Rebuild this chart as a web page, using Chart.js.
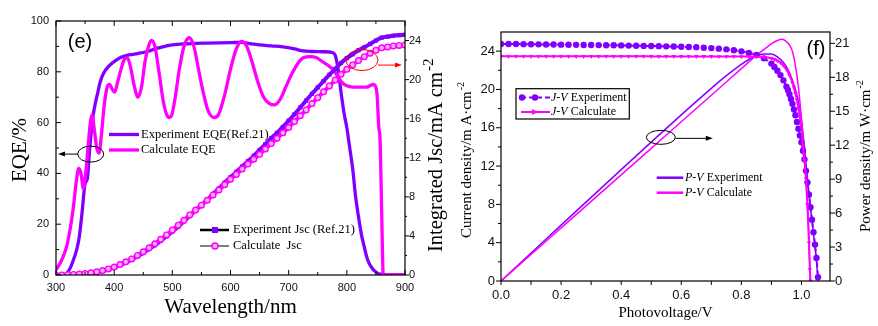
<!DOCTYPE html>
<html>
<head>
<meta charset="utf-8">
<script src="https://cdn.jsdelivr.net/npm/chart.js@4.4.0/dist/chart.umd.min.js"></script>
<style>
  body { margin: 0; background: #fff; }
  #wrap { position: relative; width: 878px; height: 326px; overflow: hidden; }
  canvas { position: absolute; top: 0; }
  #eqe { left: 0; }
  #jv { left: 440px; }
</style>
</head>
<body>
<div id="wrap">
  <canvas id="eqe" width="450" height="326"></canvas>
  <canvas id="jv" width="438" height="326"></canvas>
</div>
<script>
// ---- panel (e): EQE and integrated Jsc vs wavelength ----
const eqeExpNm = [300, 317, 320, 325, 330, 335, 340, 345, 350, 354, 357, 360, 364, 368, 372, 376, 382, 390, 400, 410,
  420, 430, 440, 450, 460, 470, 480, 490, 500, 520, 540, 560, 580, 600, 620, 630, 650, 670, 690, 710,
  725, 740, 760, 775, 780, 785, 790, 795, 800, 805, 810, 815, 820, 825, 830, 835, 840, 845, 850, 855,
  860, 870, 900];
const eqeExpVal = [0, 0, 1, 3, 6, 9.5, 15, 25, 36, 38, 47, 55, 63, 68, 72, 76, 79.5, 82, 84, 85.5,
  86.3, 86.8, 87.2, 87.6, 88.2, 89, 89.6, 90.2, 90.6, 91, 91.2, 91.3, 91.4, 91.5, 91.6, 91.2, 90.6, 90.2, 89.8, 89,
  88.2, 88, 87.9, 87.6, 86.5, 81, 72, 64, 58, 50, 42, 31, 23, 16, 11, 6.5, 3.9, 2.2, 1.2, 0.5,
  0.2, 0, 0];

const eqeCalcNm = [300, 310, 318, 325, 330, 335, 339, 343, 347, 351, 355, 359, 362, 366, 370, 374, 378, 383, 388, 392,
  397, 401, 406, 413, 418, 423, 428, 434, 441, 447, 453, 459, 464, 470, 477, 484, 489, 494, 499, 505,
  512, 520, 529, 537, 545, 553, 561, 567, 573, 580, 590, 600, 610, 619, 628, 637, 647, 657, 667, 676,
  685, 695, 705, 715, 725, 738, 748, 758, 768, 778, 786, 793, 800, 810, 820, 834, 845, 849, 852, 855,
  857, 859, 860.5, 862, 863, 870, 900];
const eqeCalcVal = [2, 6, 11, 19, 27, 37, 42, 40, 34, 40, 50, 60, 63, 57, 50, 48, 55, 67, 74, 75,
  73, 72, 76, 82, 85, 85.5, 82, 75, 70, 74, 84, 90, 92.4, 90, 80, 69, 64, 62, 63, 70,
  81, 90, 93.4, 90, 81, 72, 65, 62.5, 62, 63.5, 71, 81, 89, 92, 90, 84, 76, 70, 67.5, 67,
  69, 74, 79, 83, 85.5, 86, 85.5, 84, 82.5, 80.5, 77.5, 75.5, 74.5, 74, 74, 74, 75, 74.5, 71, 58,
  54, 35, 18, 2, 0, 0, 0];

const jscNm = [300, 310, 320, 330, 340, 350, 360, 370, 380, 390, 400, 410, 420, 430, 440, 450, 460, 470, 480, 490,
  500, 510, 520, 530, 540, 550, 560, 570, 580, 590, 600, 610, 620, 630, 640, 650, 660, 670, 680, 690,
  700, 710, 720, 730, 740, 750, 760, 770, 780, 790, 800, 810, 820, 830, 840, 850, 860, 870, 880, 890, 900];
const jscExp = [0, 0, 0, 0.02, 0.05, 0.1, 0.18, 0.28, 0.4, 0.55, 0.75, 1.0, 1.25, 1.55, 1.9, 2.25, 2.65, 3.05, 3.5, 3.95,
  4.45, 4.95, 5.5, 6.05, 6.6, 7.15, 7.7, 8.3, 8.85, 9.45, 10.0, 10.55, 11.1, 11.65, 12.2, 12.8, 13.4, 14.0, 14.55, 15.15,
  15.8, 16.45, 17.15, 17.85, 18.55, 19.2, 19.85, 20.5, 21.1, 21.7, 22.2, 22.6, 23.0, 23.3, 23.65, 24.0, 24.3, 24.4, 24.5, 24.55, 24.6];
const jscCalc = [0, 0.01, 0.03, 0.06, 0.1, 0.15, 0.22, 0.32, 0.45, 0.62, 0.82, 1.07, 1.35, 1.65, 2.0, 2.38, 2.78, 3.2, 3.65, 4.1,
  4.6, 5.1, 5.6, 6.15, 6.65, 7.15, 7.65, 8.2, 8.7, 9.25, 9.8, 10.3, 10.85, 11.35, 11.85, 12.35, 12.9, 13.45, 14.0, 14.55,
  15.1, 15.7, 16.3, 16.9, 17.55, 18.15, 18.75, 19.35, 19.95, 20.55, 21.05, 21.5, 21.95, 22.35, 22.7, 23.0, 23.25, 23.35, 23.45, 23.5, 23.55];

const nmTicks = [300, 400, 500, 600, 700, 800, 900];
const eqeTicks = [0, 20, 40, 60, 80, 100];
const jscTicks = [0, 4, 8, 12, 16, 20, 24];

// ---- panel (f): J-V and P-V curves ----
const jvExpV = [0, 0.025, 0.05, 0.075, 0.1, 0.125, 0.15, 0.175, 0.2, 0.225, 0.25, 0.275, 0.3, 0.325, 0.35, 0.375, 0.4, 0.425, 0.45, 0.475,
  0.5, 0.525, 0.55, 0.575, 0.6, 0.625, 0.65, 0.675, 0.7, 0.725, 0.75, 0.775, 0.8, 0.825, 0.85, 0.875, 0.9,
  0.91, 0.92, 0.93, 0.94, 0.95, 0.955, 0.96, 0.965, 0.97, 0.975, 0.98, 0.985, 0.99, 0.995, 1.0, 1.005, 1.01, 1.015, 1.02,
  1.025, 1.03, 1.035, 1.04, 1.045, 1.05, 1.055];
const jvExpJ = [24.75, 24.75, 24.74, 24.73, 24.72, 24.71, 24.70, 24.69, 24.68, 24.67, 24.66, 24.65, 24.64, 24.63, 24.62, 24.61, 24.60, 24.58, 24.57, 24.55,
  24.54, 24.52, 24.50, 24.48, 24.46, 24.43, 24.40, 24.36, 24.32, 24.26, 24.19, 24.10, 23.98, 23.82, 23.60, 23.25, 22.70,
  22.35, 21.95, 21.5, 20.95, 20.3, 19.95, 19.5, 19.0, 18.5, 17.9, 17.3, 16.6, 15.9, 15.2, 14.5, 13.6, 12.7, 11.5, 10.3,
  9.0, 7.7, 6.4, 5.1, 3.8, 2.4, 0.4];

const jvCalcV = [0, 0.025, 0.05, 0.075, 0.1, 0.125, 0.15, 0.175, 0.2, 0.225, 0.25, 0.275, 0.3, 0.325, 0.35, 0.375, 0.4, 0.425, 0.45, 0.475,
  0.5, 0.525, 0.55, 0.575, 0.6, 0.625, 0.65, 0.675, 0.7, 0.725, 0.75, 0.775, 0.8, 0.825, 0.85,
  0.875, 0.9, 0.91, 0.92, 0.93, 0.94, 0.95, 0.96, 0.97, 0.975, 0.98, 0.985, 0.99, 0.995, 1.0, 1.005, 1.01, 1.015, 1.02, 1.025, 1.028, 1.03];
const jvCalcJ = [23.46, 23.46, 23.46, 23.46, 23.46, 23.46, 23.46, 23.46, 23.46, 23.46, 23.46, 23.46, 23.46, 23.46, 23.46, 23.46, 23.46, 23.46, 23.46, 23.46,
  23.45, 23.45, 23.45, 23.45, 23.45, 23.45, 23.45, 23.45, 23.45, 23.44, 23.44, 23.44, 23.43, 23.43, 23.42,
  23.38, 23.25, 23.15, 23.0, 22.8, 22.5, 22.1, 21.5, 20.7, 20.2, 19.6, 18.9, 18.0, 17.1, 16.2, 14.2, 12.6, 10.7, 8.0, 4.0, 1.2, 0];

const pvExpV = [0, 0.1, 0.2, 0.3, 0.4, 0.5, 0.6, 0.7, 0.75, 0.8, 0.85, 0.875, 0.9, 0.92, 0.94, 0.96, 0.98, 0.99, 1.0, 1.01, 1.02, 1.03, 1.04, 1.05, 1.055];
const pvExpP = [0, 2.47, 4.94, 7.39, 9.84, 12.27, 14.68, 17.02, 18.14, 19.15, 19.9, 20.05, 20.05, 19.8, 19.3, 18.4, 16.9, 15.8, 14.2, 11.8, 9.0, 6.5, 4.2, 1.8, 0];

const pvCalcV = [0, 0.1, 0.2, 0.3, 0.4, 0.5, 0.6, 0.7, 0.8, 0.85, 0.88, 0.9, 0.92, 0.935, 0.95, 0.96, 0.97, 0.98, 0.99, 1.0, 1.005, 1.01, 1.015, 1.02, 1.025, 1.029];
const pvCalcP = [0, 2.35, 4.69, 7.03, 9.38, 11.72, 14.07, 16.41, 18.76, 19.93, 20.55, 20.95, 21.25, 21.35, 21.15, 20.85, 20.3, 19.0, 17.1, 14.3, 12.6, 10.8, 9.0, 6.4, 3.8, 0];

const voltTicks = [0, 0.2, 0.4, 0.6, 0.8, 1.0];
const currentTicks = [0, 4, 8, 12, 16, 20, 24];
const powerTicks = [0, 3, 6, 9, 12, 15, 18, 21];

const PURPLE = '#8000ff';
const MAGENTA = '#ff00ff';
const SERIF = '"Liberation Serif", "Times New Roman", serif';
const SANS = '"Liberation Sans", Arial, sans-serif';

Chart.defaults.font.family = SANS;
Chart.defaults.color = '#111';

const pts = (xs, ys) => xs.map((x, i) => ({ x: x, y: ys[i] }));
const mids = arr => arr.slice(1).map((v, i) => (v + arr[i]) / 2);
const setTicks = list => scale => { scale.ticks = list.map(v => ({ value: v })); };

// tick marks: positive length points into the plot, negative points outwards
function tickMarks(ctx, a, scale, side, values, len) {
  ctx.beginPath();
  values.forEach(v => {
    const p = scale.getPixelForValue(v);
    if (side === 'bottom') { ctx.moveTo(p, a.bottom); ctx.lineTo(p, a.bottom - len); }
    else if (side === 'top') { ctx.moveTo(p, a.top); ctx.lineTo(p, a.top + len); }
    else if (side === 'left') { ctx.moveTo(a.left, p); ctx.lineTo(a.left + len, p); }
    else { ctx.moveTo(a.right, p); ctx.lineTo(a.right - len, p); }
  });
  ctx.stroke();
}

function hLine(ctx, x1, x2, y, color, width, dash) {
  ctx.save();
  ctx.strokeStyle = color;
  ctx.lineWidth = width;
  ctx.setLineDash(dash || []);
  ctx.beginPath();
  ctx.moveTo(x1, y);
  ctx.lineTo(x2, y);
  ctx.stroke();
  ctx.restore();
}

function arrow(ctx, x1, x2, y, color) {
  const dir = x2 > x1 ? 1 : -1;
  hLine(ctx, x1, x2 - dir * 4, y, color, 1);
  ctx.save();
  ctx.fillStyle = color;
  ctx.beginPath();
  ctx.moveTo(x2, y);
  ctx.lineTo(x2 - dir * 7, y - 2.5);
  ctx.lineTo(x2 - dir * 7, y + 2.5);
  ctx.closePath();
  ctx.fill();
  ctx.restore();
}

function ellipse(ctx, cx, cy, rx, ry, color) {
  ctx.save();
  ctx.strokeStyle = color;
  ctx.lineWidth = 1;
  ctx.beginPath();
  ctx.ellipse(cx, cy, rx, ry, 0, 0, Math.PI * 2);
  ctx.stroke();
  ctx.restore();
}

function label(ctx, txt, x, y, font, align) {
  ctx.save();
  ctx.font = font;
  ctx.fillStyle = '#000';
  ctx.textAlign = align || 'left';
  ctx.textBaseline = 'middle';
  ctx.fillText(txt, x, y);
  ctx.restore();
}

// italic prefix ("J-V") followed by upright text
function mixedLabel(ctx, ital, rest, x, y, size) {
  ctx.save();
  ctx.fillStyle = '#000';
  ctx.textBaseline = 'middle';
  ctx.font = 'italic ' + size + 'px ' + SERIF;
  ctx.fillText(ital, x, y);
  const w = ctx.measureText(ital).width;
  ctx.font = size + 'px ' + SERIF;
  ctx.fillText(rest, x + w, y);
  ctx.restore();
}

// vertical title read bottom to top, with a raised exponent at the end
function vTitle(ctx, cx, bottom, main, sup, size, supSize) {
  ctx.save();
  ctx.translate(cx, bottom);
  ctx.rotate(-Math.PI / 2);
  ctx.fillStyle = '#000';
  ctx.textBaseline = 'middle';
  ctx.font = size + 'px ' + SERIF;
  ctx.fillText(main, 0, 0);
  if (sup) {
    const w = ctx.measureText(main).width;
    ctx.font = supSize + 'px ' + SERIF;
    ctx.fillText(sup, w + 1, -size * 0.38);
  }
  ctx.restore();
}

const eqeDecor = {
  id: 'eqeDecor',
  afterDraw(chart) {
    const { ctx, chartArea: a } = chart;
    const { x, y, y2 } = chart.scales;
    ctx.save();
    ctx.strokeStyle = '#000';
    ctx.lineWidth = 1.2;
    ctx.strokeRect(a.left, a.top, a.right - a.left, a.bottom - a.top);
    ctx.lineWidth = 1;
    tickMarks(ctx, a, x, 'bottom', nmTicks, 5);
    tickMarks(ctx, a, x, 'bottom', mids(nmTicks), 3);
    tickMarks(ctx, a, x, 'top', nmTicks, 5);
    tickMarks(ctx, a, x, 'top', mids(nmTicks), 3);
    tickMarks(ctx, a, y, 'left', eqeTicks, 5);
    tickMarks(ctx, a, y, 'left', mids(eqeTicks), 3);
    tickMarks(ctx, a, y2, 'right', jscTicks, -4);
    tickMarks(ctx, a, y2, 'right', mids(jscTicks), -2);
    ctx.restore();

    // legends
    hLine(ctx, 109, 139, 134.5, PURPLE, 3.3);
    label(ctx, 'Experiment EQE(Ref.21)', 141, 134.5, '12.5px ' + SERIF);
    hLine(ctx, 109, 139, 150, MAGENTA, 3.3);
    label(ctx, 'Calculate EQE', 141, 150, '12.5px ' + SERIF);

    hLine(ctx, 200, 229, 230, '#000', 2.5);
    ctx.fillStyle = PURPLE;
    ctx.fillRect(212, 227, 6, 6);
    label(ctx, 'Experiment Jsc (Ref.21)', 233, 230, '12.5px ' + SERIF);
    hLine(ctx, 200, 229, 246, '#000', 1);
    ctx.save();
    ctx.fillStyle = '#ffb4ff';
    ctx.strokeStyle = MAGENTA;
    ctx.lineWidth = 1.5;
    ctx.beginPath();
    ctx.arc(215, 246, 3, 0, Math.PI * 2);
    ctx.fill();
    ctx.stroke();
    ctx.restore();
    label(ctx, 'Calculate  Jsc', 233, 246, '12.5px ' + SERIF);

    // axis pointers
    const ex = x.getPixelForValue(359.7), ey = y.getPixelForValue(47.6);
    ellipse(ctx, ex, ey, 13, 8, '#000');
    arrow(ctx, ex - 13, a.left + 2, ey, '#000');
    const rx = x.getPixelForValue(826), ry = y2.getPixelForValue(22);
    ellipse(ctx, rx, ry, 16, 10.5, '#ff0000');
    arrow(ctx, rx + 16, rx + 40, ry + 5, '#ff0000');

    label(ctx, '(e)', 80, 42, '20px ' + SANS, 'center');

    // axis titles
    label(ctx, 'Wavelength/nm', (a.left + a.right) / 2, 307, '21px ' + SERIF, 'center');
    ctx.save();
    ctx.translate(20, (a.top + a.bottom) / 2 + 2);
    ctx.rotate(-Math.PI / 2);
    label(ctx, 'EQE/%', 0, 0, '21px ' + SERIF, 'center');
    ctx.restore();
    vTitle(ctx, 437, 252, 'Integrated Jsc/mA cm', '-2', 20.5, 15);
  }
};

const jvDecor = {
  id: 'jvDecor',
  afterDraw(chart) {
    const { ctx, chartArea: a } = chart;
    const { x, y, y2 } = chart.scales;
    ctx.save();
    ctx.strokeStyle = '#000';
    ctx.lineWidth = 1.2;
    ctx.strokeRect(a.left, a.top, a.right - a.left, a.bottom - a.top);
    ctx.lineWidth = 1;
    tickMarks(ctx, a, x, 'bottom', voltTicks.concat(mids(voltTicks)), -4);
    tickMarks(ctx, a, y, 'left', currentTicks, -5);
    tickMarks(ctx, a, y, 'left', mids(currentTicks), -3);
    tickMarks(ctx, a, y2, 'right', powerTicks, -5);
    tickMarks(ctx, a, y2, 'right', mids(powerTicks), -3);
    ctx.restore();

    // J-V legend box
    ctx.save();
    ctx.strokeStyle = '#000';
    ctx.lineWidth = 1.2;
    ctx.strokeRect(76, 88.7, 113.3, 30.3);
    ctx.restore();
    hLine(ctx, 81, 110, 97.5, PURPLE, 2, [5, 3]);
    ctx.save();
    ctx.fillStyle = PURPLE;
    [82, 95].forEach(cx => { ctx.beginPath(); ctx.arc(cx, 97.5, 3.2, 0, Math.PI * 2); ctx.fill(); });
    ctx.restore();
    mixedLabel(ctx, 'J-V', ' Experiment', 111, 97.5, 12);
    hLine(ctx, 81, 110, 112, MAGENTA, 2);
    ctx.save();
    ctx.fillStyle = MAGENTA;
    ctx.beginPath();
    ctx.moveTo(92, 109);
    ctx.lineTo(98, 112);
    ctx.lineTo(92, 115);
    ctx.closePath();
    ctx.fill();
    ctx.restore();
    mixedLabel(ctx, 'J-V', ' Calculate', 111, 112, 12);

    // P-V legend
    hLine(ctx, 216.7, 243.3, 177.7, PURPLE, 2.5);
    mixedLabel(ctx, 'P-V', ' Experiment', 245, 177.7, 12);
    hLine(ctx, 216.7, 243.3, 192.7, MAGENTA, 2.5);
    mixedLabel(ctx, 'P-V', ' Calculate', 245, 192.7, 12);

    // pointer to the power axis
    const ex = x.getPixelForValue(0.532), ey = y.getPixelForValue(15.0);
    ellipse(ctx, ex, ey, 14.5, 7, '#000');
    arrow(ctx, ex + 14.5, ex + 52, ey + 1, '#000');

    label(ctx, '(f)', 376, 49.5, '20px ' + SANS, 'center');

    label(ctx, 'Photovoltage/V', (a.left + a.right) / 2, 313, '15px ' + SERIF, 'center');
    vTitle(ctx, 26.7, 238, 'Current density/m A\u00b7cm', '-2', 15, 10);
    vTitle(ctx, 426, 232, 'Power density/m W\u00b7cm', '-2', 15, 10);
  }
};

const hiddenGrid = { display: false, drawTicks: false };
const noBorder = { display: false };

new Chart(document.getElementById('eqe'), {
  type: 'line',
  data: {
    datasets: [
      {
        label: 'Experiment Jsc (Ref.21)',
        data: pts(jscNm, jscExp),
        yAxisID: 'y2',
        borderColor: PURPLE,
        borderWidth: 4,
        pointStyle: 'rect',
        pointRadius: 3,
        pointBackgroundColor: PURPLE,
        pointBorderWidth: 0,
        order: 1
      },
      {
        label: 'Calculate  Jsc',
        data: pts(jscNm, jscCalc),
        yAxisID: 'y2',
        borderColor: MAGENTA,
        borderWidth: 4,
        pointStyle: 'circle',
        pointRadius: 2.8,
        pointBackgroundColor: '#ffb4ff',
        pointBorderColor: MAGENTA,
        pointBorderWidth: 1.4,
        order: 0
      },
      {
        label: 'Experiment EQE(Ref.21)',
        data: pts(eqeExpNm, eqeExpVal),
        yAxisID: 'y',
        borderColor: PURPLE,
        borderWidth: 3.3,
        pointRadius: 0,
        order: 3
      },
      {
        label: 'Calculate EQE',
        data: pts(eqeCalcNm, eqeCalcVal),
        yAxisID: 'y',
        borderColor: MAGENTA,
        borderWidth: 3.3,
        pointRadius: 0,
        order: 2
      }
    ]
  },
  options: {
    responsive: false,
    animation: false,
    layout: { padding: { top: 21 } },
    elements: { line: { cubicInterpolationMode: 'monotone' } },
    plugins: { legend: { display: false }, tooltip: { enabled: false } },
    scales: {
      x: {
        type: 'linear', min: 300, max: 900,
        grid: hiddenGrid, border: noBorder,
        ticks: { padding: 6, font: { size: 11 }, maxRotation: 0 },
        afterBuildTicks: setTicks(nmTicks),
        afterFit: s => { s.height = 51; }
      },
      y: {
        position: 'left', min: 0, max: 100,
        grid: hiddenGrid, border: noBorder,
        ticks: { padding: 7, font: { size: 11 } },
        afterBuildTicks: setTicks(eqeTicks),
        afterFit: s => { s.width = 56; }
      },
      y2: {
        position: 'right', min: 0, max: 26,
        grid: hiddenGrid, border: noBorder,
        ticks: { padding: 4, font: { size: 11 } },
        afterBuildTicks: setTicks(jscTicks),
        afterFit: s => { s.width = 45; }
      }
    }
  },
  plugins: [eqeDecor]
});

new Chart(document.getElementById('jv'), {
  type: 'line',
  data: {
    datasets: [
      {
        label: 'J-V Experiment',
        data: pts(jvExpV, jvExpJ),
        yAxisID: 'y',
        borderColor: PURPLE,
        borderWidth: 2,
        borderDash: [5, 3],
        pointStyle: 'circle',
        pointRadius: 3.2,
        pointBackgroundColor: PURPLE,
        pointBorderWidth: 0,
        order: 1
      },
      {
        label: 'J-V Calculate',
        data: pts(jvCalcV, jvCalcJ),
        yAxisID: 'y',
        borderColor: MAGENTA,
        borderWidth: 2,
        pointStyle: 'triangle',
        pointRotation: 180,
        pointRadius: 2.6,
        pointBackgroundColor: MAGENTA,
        pointBorderWidth: 0,
        order: 0
      },
      {
        label: 'P-V Experiment',
        data: pts(pvExpV, pvExpP),
        yAxisID: 'y2',
        borderColor: PURPLE,
        borderWidth: 1.5,
        pointRadius: 0,
        order: 3
      },
      {
        label: 'P-V Calculate',
        data: pts(pvCalcV, pvCalcP),
        yAxisID: 'y2',
        borderColor: MAGENTA,
        borderWidth: 1.5,
        pointRadius: 0,
        order: 2
      }
    ]
  },
  options: {
    responsive: false,
    animation: false,
    layout: { padding: { top: 32 } },
    elements: { line: { cubicInterpolationMode: 'monotone' } },
    plugins: { legend: { display: false }, tooltip: { enabled: false } },
    scales: {
      x: {
        type: 'linear', min: 0, max: 1.095,
        grid: hiddenGrid, border: noBorder,
        ticks: { padding: 7, font: { size: 13 }, maxRotation: 0, callback: v => v.toFixed(1) },
        afterBuildTicks: setTicks(voltTicks),
        afterFit: s => { s.height = 45; }
      },
      y: {
        position: 'left', min: 0, max: 26,
        grid: hiddenGrid, border: noBorder,
        ticks: { padding: 6, font: { size: 13 } },
        afterBuildTicks: setTicks(currentTicks),
        afterFit: s => { s.width = 61; }
      },
      y2: {
        position: 'right', min: 0, max: 22,
        grid: hiddenGrid, border: noBorder,
        ticks: { padding: 5, font: { size: 13 } },
        afterBuildTicks: setTicks(powerTicks),
        afterFit: s => { s.width = 48; }
      }
    }
  },
  plugins: [jvDecor]
});
</script>
</body>
</html>
